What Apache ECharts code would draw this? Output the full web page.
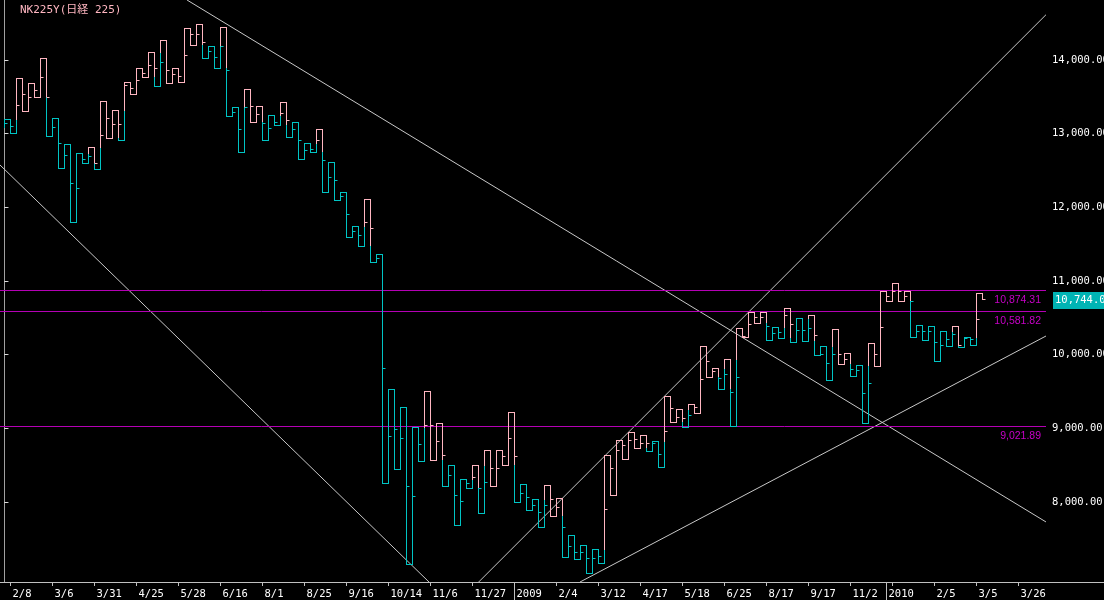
<!DOCTYPE html>
<html><head><meta charset="utf-8">
<script src="https://cdn.jsdelivr.net/npm/echarts@6/dist/echarts.min.js"></script>
<style>html,body{margin:0;padding:0;background:#000;overflow:hidden;}#c{width:1104px;height:600px;}</style>
</head><body><div id="c"></div>
<script>
// ---- data ----
const startLevel = 13084;
const levels = [
13197,13003,13749,13305,13681,13491,14015,12966,13206,12528,
12854,11799,12726,12596,12817,12514,13441,12935,13319,12908,
13699,13536,13885,13763,14102,13641,14265,13681,13885,13689,
14422,14197,14482,14021,14178,13885,14441,13234,13356,12745,
13600,13152,13369,12908,13247,13111,13418,12949,13152,12650,
12867,12745,13057,12202,12609,12094,12202,11592,11745,11470,
12107,11252,11361,8254,9529,8444,9285,7145,9008,8556,
9497,8560,9068,8208,8498,7684,8308,8186,8498,7847,
8701,8213,8701,8498,9217,7996,8240,7878,8037,7657,
8227,7800,8050,7250,7548,7213,7412,7032,7358,7168,
8624,8091,8837,8579,8946,8729,8905,8688,8824,8471,
9434,9081,9252,9014,9326,9204,10107,9692,9814,9529,
9936,9027,10357,10235,10574,10425,10574,10194,10370,10221,
10628,10167,10493,10181,10528,9991,10113,9651,10343,9868,
10012,9706,9855,9068,10153,9841,10859,10723,10968,10723,
10859,10235,10392,10185,10379,9909,10320,10113,10379,10090,
10235,10130,10832,10744
];
const closes = [
13139,13102,13383,13532,13495,13586,13767,13491,13079,12867,
12699,12324,12257,12654,12685,12596,12976,13201,13129,13120,
13658,13613,13713,13817,13926,13885,13966,13862,13807,13771,
14065,14341,14346,14238,14110,14034,14178,13862,13288,13048,
13356,13373,13261,13139,13071,13152,13274,13183,13057,12908,
12763,12790,12902,12637,12406,12360,12139,11904,11677,11619,
11795,11714,11307,9805,8886,8986,8864,8213,8072,8783,
9031,9031,8814,8634,8362,8091,8000,8254,8335,8180,
8267,8452,8457,8611,8868,8611,8118,8064,7955,7851,
7946,8027,7928,7657,7399,7317,7308,7231,7236,7263,
7901,8457,8701,8773,8837,8845,8791,8787,8791,8651,
8959,9262,9153,9136,9176,9280,9665,9909,9773,9673,
9733,9488,9692,10239,10402,10497,10506,10384,10280,10297,
10524,10415,10330,10330,10357,10262,10008,9882,9999,10004,
9940,9795,9782,9469,9611,10004,10361,10782,10850,10854,
10786,10718,10307,10320,10320,10167,10117,10202,10275,10117,
10212,10208,10479,10744
];
// date labels every 7 columns starting at column 1 ('' = suppressed at a year start)
const dateLabels = ['2/8','3/6','3/31','4/25','5/28','6/16','8/1','8/25','9/16','10/14','11/6','11/27','',
  '2/4','3/12','4/17','5/18','6/25','8/17','9/17','11/2','','2/5','3/5','3/26'];
const yearStartCols = [85,147];
const yearLabels = ['2009','2010'];
const priceLines = [10874.31, 10581.82, 9021.89];
const lastPrice = 10744.03;
const trendLines = [
  [[30.42,14812],[173.58,7729]],
  [[79.03,6914],[173.58,14612]],
  [[-0.75,12573],[70.75,6914]],
  [[95.92,6914],[173.58,10252]]
];
const yTicks = [8000,9000,10000,11000,12000,13000,14000];
const Y_MIN = 6914, Y_MAX = 14812;
const X_MIN = -0.75, X_MAX = -0.75 + 1046/6;

// ---- styling ----
const PINK = '#ffb6c1', CYAN = '#00c4c4', MAG = '#b400b4', GRAY = '#c0c0c0';
const MONO = 'DejaVu Sans Mono';
const fmt = v => v.toLocaleString('en-US',{minimumFractionDigits:2, maximumFractionDigits:2});

// ---- kagi-style colouring ----
const columns = [];
let cur = CYAN;
for (let k = 0; k < levels.length; k++) {
  const from = k === 0 ? startLevel : levels[k-1];
  const to = levels[k];
  const ref = k >= 2 ? levels[k-2] : null;
  const up = to > from;
  const flipTo = up ? PINK : CYAN;
  const segs = [];
  const crosses = ref !== null && cur !== flipTo && (up ? to > ref : to < ref);
  if (crosses) {
    const inRange = up ? ref > from : ref < from;
    if (inRange) segs.push([from, ref, cur]);
    segs.push([inRange ? ref : from, to, flipTo]);
    cur = flipTo;
  } else segs.push([from, to, cur]);
  let tc = segs[segs.length-1][2];
  for (const s of segs) {
    const lo = Math.min(s[0], s[1]), hi = Math.max(s[0], s[1]);
    if (closes[k] >= lo && closes[k] <= hi) { tc = s[2]; break; }
  }
  columns.push({segs, end: cur, tickColor: tc});
}

const snap = v => Math.round(v - 0.5) + 0.5;

function renderCol(params, api) {
  const k = params.dataIndex;
  const c = columns[k];
  const x = snap(api.coord([k, levels[k]])[0]);
  const py = v => snap(api.coord([k, v])[1]);
  const ch = [];
  c.segs.forEach(s => ch.push({type:'line', shape:{x1:x,y1:py(s[0]),x2:x,y2:py(s[1])},
    style:{stroke:s[2], lineWidth:1, lineCap:'square'}}));
  if (k < levels.length - 1) {
    const xn = snap(api.coord([k+1, levels[k]])[0]);
    const y = py(levels[k]);
    ch.push({type:'line', shape:{x1:x,y1:y,x2:xn,y2:y}, style:{stroke:c.end, lineWidth:1, lineCap:'square'}});
  }
  const ty = py(closes[k]);
  ch.push({type:'line', shape:{x1:x,y1:ty,x2:x+3,y2:ty}, style:{stroke:c.tickColor, lineWidth:1}});
  return {type:'group', children: ch};
}

function renderPriceLine(params, api) {
  const p = priceLines[params.dataIndex];
  const a = api.coord([X_MIN, p]), b = api.coord([X_MAX, p]);
  const y = snap(a[1]);
  return {type:'group', children:[
    {type:'line', shape:{x1:a[0], y1:y, x2:b[0], y2:y}, style:{stroke:MAG, lineWidth:1}},
    {type:'text', style:{text:fmt(p), x:b[0]-5, y:y+10, fill:'#c800c8',
      font:'10.5px "Liberation Sans"', textAlign:'right', textVerticalAlign:'middle'}}
  ]};
}

function renderTag(params, api) {
  const p = api.coord([X_MAX, lastPrice]);
  const y = Math.round(p[1]);
  return {type:'group', children:[
    {type:'rect', shape:{x:p[0]+7, y:y-8, width:60, height:17}, style:{fill:'#00b4b4'}},
    {type:'text', style:{text:fmt(lastPrice), x:p[0]+9, y:y+0.5, fill:'#ffffff',
      font:'10.5px "' + MONO + '"', textAlign:'left', textVerticalAlign:'middle'}}
  ]};
}

const dateCols = dateLabels.map((_, j) => 1 + 7*j);
const labelCols = dateCols.filter((c, j) => dateLabels[j] !== '');

const chart = echarts.init(document.getElementById('c'), null, {renderer:'canvas'});
chart.setOption({
  backgroundColor:'#000',
  animation:false,
  title:{text:'NK225Y(日経 225)', left:20, top:5, padding:0,
    textStyle:{color:PINK, fontSize:11, fontWeight:'normal', fontFamily: MONO + ', "Noto Sans CJK JP"'}},
  grid:[
    {left:0, top:0, width:1046, height:582, containLabel:false, outerBoundsMode:'none'},
    {left:0, top:0, width:1104, height:582, containLabel:false, outerBoundsMode:'none'}
  ],
  xAxis:[
    {type:'value', gridIndex:0, min:X_MIN, max:X_MAX, position:'bottom',
      axisLine:{show:true, lineStyle:{color:GRAY}},
      axisTick:{show:true, length:4, customValues:dateCols, lineStyle:{color:GRAY}},
      axisLabel:{show:true, customValues:labelCols, align:'left', margin:7, color:'#fff',
        fontFamily:MONO, fontSize:10.5, padding:[0,0,0,2],
        formatter: v => dateLabels[Math.round((v-1)/7)] || ''},
      splitLine:{show:false}},
    {type:'value', gridIndex:0, min:X_MIN, max:X_MAX, position:'bottom',
      axisLine:{show:false},
      axisTick:{show:true, length:18, customValues:yearStartCols, lineStyle:{color:GRAY}},
      axisLabel:{show:true, customValues:yearStartCols, align:'left', margin:7, color:'#fff',
        fontFamily:MONO, fontSize:10.5, padding:[0,0,0,2],
        formatter: v => yearLabels[yearStartCols.indexOf(Math.round(v))] || ''},
      splitLine:{show:false}},
    {type:'value', gridIndex:1, min:0, max:1, position:'bottom',
      axisLine:{show:true, lineStyle:{color:GRAY}}, axisTick:{show:false}, axisLabel:{show:false}, splitLine:{show:false}}
  ],
  yAxis:[
    {type:'value', gridIndex:0, min:Y_MIN, max:Y_MAX, position:'right',
      axisLine:{show:true, lineStyle:{color:GRAY}},
      axisTick:{show:true, length:4, customValues:yTicks, lineStyle:{color:GRAY}},
      axisLabel:{show:true, customValues:yTicks, margin:6, color:'#fff', fontFamily:MONO, fontSize:10.5,
        formatter: v => fmt(v)},
      splitLine:{show:false}},
    {type:'value', gridIndex:0, min:Y_MIN, max:Y_MAX, position:'left',
      axisLine:{show:true, lineStyle:{color:'#a0a0a0'}},
      axisTick:{show:true, inside:true, length:3, customValues:yTicks, lineStyle:{color:'#e0e0e0'}},
      axisLabel:{show:false}, splitLine:{show:false}},
    {type:'value', gridIndex:1, min:0, max:1, show:false}
  ],
  series:[
    ...trendLines.map(t => ({type:'line', xAxisIndex:0, yAxisIndex:0, data:t, showSymbol:false, symbol:'none',
      silent:true, clip:true, z:1, lineStyle:{color:'#c8c8c8', width:1}})),
    {type:'custom', xAxisIndex:0, yAxisIndex:0, z:2, silent:true,
      data: priceLines.map(p => [X_MIN, p]), encode:{x:0, y:1}, renderItem: renderPriceLine},
    {type:'custom', xAxisIndex:0, yAxisIndex:0, z:3, silent:true,
      data: levels.map((v, k) => [k, v]), encode:{x:0, y:1}, renderItem: renderCol},
    {type:'custom', xAxisIndex:0, yAxisIndex:0, z:4, silent:true, clip:false,
      data: [[X_MAX, lastPrice]], encode:{x:0, y:1}, renderItem: renderTag}
  ]
});
</script></body></html>
